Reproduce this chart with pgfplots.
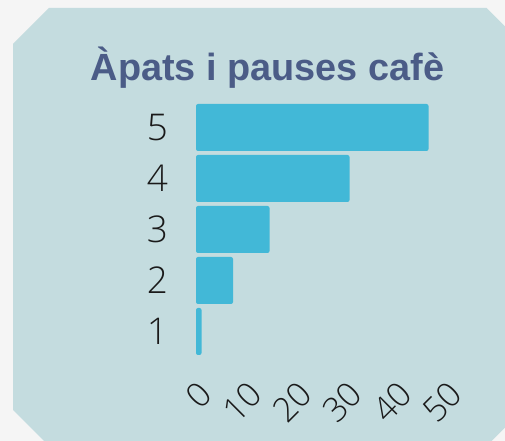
\documentclass[border=0pt]{standalone}
\usepackage{pgfplots}
\pgfplotsset{compat=1.18}
\usepackage{fontspec}
\setmainfont{Open Sans Light}
\newfontfamily\titlefont{Liberation Sans}
\definecolor{bgout}{HTML}{F5F5F5}
\definecolor{panel}{HTML}{C4DCDF}
\definecolor{barc}{HTML}{42B8D7}
\definecolor{titlec}{HTML}{4B5C87}
\definecolor{tickc}{HTML}{1A1A1A}
\begin{document}
\begin{tikzpicture}[x=1bp,y=1bp]
\fill[bgout] (0,0) rectangle (505,441);
\begin{scope}
\clip (0,0) rectangle (505,441);
\fill[panel] (13,397) -- (49,433) -- (486.7,433) -- (522.7,397) -- (522.7,31) -- (486.7,-5) -- (49,-5) -- (13,31) -- cycle;
\end{scope}
\node[anchor=base, font=\titlefont\bfseries\fontsize{38}{40}\selectfont, text=titlec, inner sep=0] at (267.5,360) {Àpats i pauses cafè};
\begin{axis}[at={(196bp,84bp)}, anchor=south west, scale only axis,
  width=250bp, height=255bp,
  xmin=0, xmax=50, ymin=0.5, ymax=5.5,
  xbar, bar width=47bp,
  axis line style={draw=none}, major tick length=0,
  xtick={0,10,...,50}, ytick={1,...,5},
  tick label style={text=tickc},
  yticklabel style={font=\fontsize{37}{40}\selectfont, anchor=east, inner sep=0, xshift=-28bp},
  xticklabel style={font=\fontsize{34}{36}\selectfont, xshift=1bp, yshift=-22.5bp, rotate=45, anchor=north east, inner sep=0},
  /pgf/number format/assume math mode=true,
  clip=false]
\addplot[fill=barc, draw=none, rounded corners=2bp] coordinates {(1.1,1) (7.4,2) (14.7,3) (30.7,4) (46.5,5)};
\end{axis}
\pgfresetboundingbox
\useasboundingbox (0,0) rectangle (505,441);
\end{tikzpicture}
\end{document}
